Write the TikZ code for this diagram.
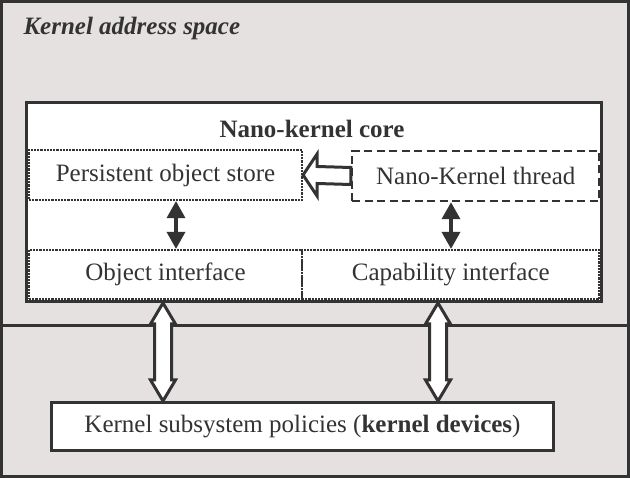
\documentclass[tikz,border=0pt]{standalone}
\usepackage{fontspec}
\setmainfont{Liberation Serif}
\usetikzlibrary{calc,arrows.meta}

\definecolor{bgc}{HTML}{E6E1E1}
\definecolor{linec}{HTML}{333333}

% vertical hollow double arrow: #1 top tip, #2 bottom tip
\newcommand*{\hollowdbl}[2]{%
	\draw[hollow] (#1) -- ++(12.5,21) -- ++(-4,0) -- ($(#2)+(8.5,-21)$) -- ++(4,0)
	  -- (#2) -- ++(-12.5,-21) -- ++(4,0) -- ($(#1)+(-8.5,21)$) -- ++(-4,0) -- cycle;}

\begin{document}
\begin{tikzpicture}
[
	x=1pt,y=-1pt,
	every node/.style={text=linec,font=\fontsize{25}{30}\selectfont},
	corebox/.style={draw=linec,line width=3pt,fill=white,inner sep=0pt},
	dotbox/.style={draw=linec,line width=2.2pt,dash pattern=on 2.2pt off 1pt,inner sep=0pt,minimum height=50pt},
	dashbox/.style={draw=linec,line width=2.4pt,dash pattern=on 8pt off 4.5pt,inner sep=0pt,minimum height=50pt},
	hollow/.style={draw=linec,fill=white,line width=3pt,line join=miter},
	dblarrow/.style={draw=linec,line width=3.5pt,
	  {Triangle[length=17pt,width=18pt]}-{Triangle[length=17pt,width=18pt]}}
]

	% background and frame
	\useasboundingbox (0,0) rectangle (630,478);
	\fill[bgc] (0,0) rectangle (630,478);
	\draw[linec,line width=3pt] (1.5,1.5) rectangle (628.5,476.5);
	\draw[linec,line width=3pt] (0,325.5) -- (630,325.5);

	\node[anchor=base west,font=\fontsize{25}{30}\selectfont\bfseries\itshape] (title) at (20,35) {Kernel address space};

	% nano-kernel core
	\node[corebox,minimum width=575pt,minimum height=199pt] (core) at (314,202) {};
	\node[font=\fontsize{25}{30}\selectfont\bfseries] (corelbl) at (312,129) {Nano-kernel core};

	\node[dotbox,minimum width=273pt] (store) at (165.5,175) {Persistent object store};
	\node[dashbox,minimum width=247.5pt] (thread) at (475.75,176) {Nano-Kernel thread};
	\node[dotbox,minimum width=273pt,minimum height=49pt] (objif) at (165.5,274.5) {Object interface};
	\node[dotbox,minimum width=297.5pt,minimum height=49pt] (capif) at (450.75,274.5) {Capability interface};

	% kernel devices
	\node[corebox,minimum width=502pt,minimum height=48pt] (policies) at (302.5,426.5)
	  {Kernel subsystem policies (\textbf{kernel devices})};

	% thread -> store
	\draw[hollow] ($(thread.west)+(0,-8.5)$) -- ($(store.east)+(14,-8.5)$) -- ($(store.east)+(14,-21)$)
	  -- (store.east) -- ($(store.east)+(14,21)$) -- ($(store.east)+(14,8.5)$) -- ($(thread.west)+(0,8.5)$) -- cycle;

	% store/thread <-> interfaces
	\coordinate (la) at (176,0);
	\coordinate (ra) at (451,0);
	\draw[dblarrow] (store.south -| la) -- (objif.north -| la);
	\draw[dblarrow] (thread.south -| ra) -- (capif.north -| ra);

	% interfaces <-> policies
	\coordinate (lb) at (163,0);
	\coordinate (rb) at (438,0);
	\coordinate (lbt) at (core.south -| lb);
	\coordinate (lbb) at (policies.north -| lb);
	\coordinate (rbt) at (core.south -| rb);
	\coordinate (rbb) at (policies.north -| rb);
	\hollowdbl{lbt}{lbb}
	\hollowdbl{rbt}{rbb}

\end{tikzpicture}
\end{document}
